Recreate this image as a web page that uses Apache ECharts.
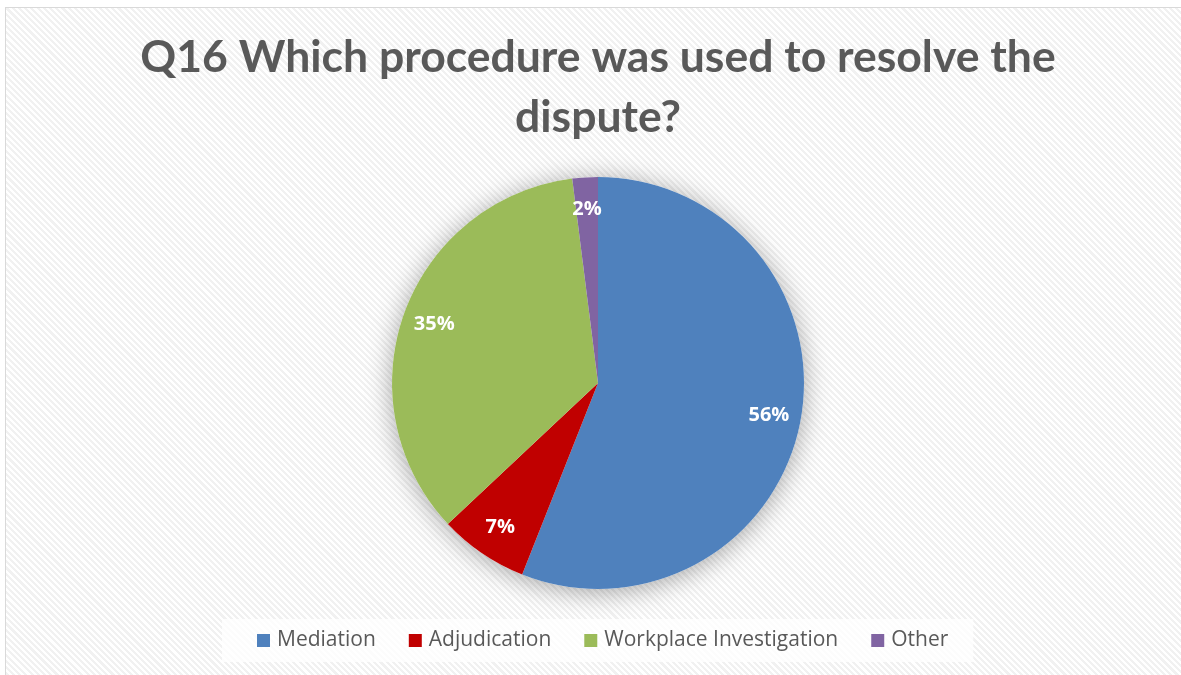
<!DOCTYPE html>
<html>
<head>
<meta charset="utf-8">
<script src="https://cdn.jsdelivr.net/npm/echarts@6/dist/echarts.min.js"></script>
<style>
  html, body { margin: 0; padding: 0; background: #ffffff; }
  #frame {
    position: absolute; left: 5px; top: 7px; width: 1180px; height: 672px;
    border: 1.5px solid #d9d9d9; box-sizing: border-box;
    background: repeating-linear-gradient(45deg, #ffffff 0px, #ffffff 2.2px, #f1f1f1 2.2px, #f1f1f1 4.4px);
  }
  #chart { position: absolute; left: 0; top: 0; width: 1181px; height: 675px; }
</style>
</head>
<body>
<div id="frame"></div>
<div id="chart"></div>
<script>
// Survey answers: procedure used to resolve the dispute (share of respondents, %)
const categories = ['Mediation', 'Adjudication', 'Workplace Investigation', 'Other'];
const shares = [56, 7, 35, 2];
const colors = ['#4F81BD', '#C00000', '#9BBB59', '#8064A2'];
const titleText = 'Q16 Which procedure was used to resolve the\ndispute?';

const pieData = categories.map((name, i) => ({ name, value: shares[i], itemStyle: { color: colors[i] } }));
const labelData = categories.map((name, i) => ({ name, value: shares[i] }));

const chart = echarts.init(document.getElementById('chart'), null, { renderer: 'canvas' });
const center = [598, 383];
const R = 206;

chart.setOption({
  backgroundColor: 'transparent',
  animation: false,
  title: {
    text: titleText,
    left: 593,
    top: 23,
    textAlign: 'center',
    textStyle: {
      fontFamily: 'Lato', fontWeight: 'bold', fontSize: 44.5, lineHeight: 60, color: '#595959'
    }
  },
  legend: {
    data: categories,
    left: 222,
    top: 619,
    icon: 'rect',
    itemWidth: 13,
    itemHeight: 13,
    itemGap: 33,
    padding: [11, 25, 11, 35],
    backgroundColor: 'rgba(255,255,255,0.75)',
    textStyle: { fontFamily: 'Open Sans', fontSize: 21, color: '#595959', padding: [0, 0, 0, 2] }
  },
  series: [
    {
      // soft drop shadow behind the pie
      type: 'pie', silent: true, center, radius: [0, R], z: 1,
      label: { show: false }, labelLine: { show: false },
      itemStyle: { color: '#ffffff', shadowBlur: 26, shadowColor: 'rgba(0,0,0,0.35)', shadowOffsetY: 3 },
      data: [{ name: '', value: 1 }]
    },
    {
      type: 'pie', center, radius: [0, R], startAngle: 90, clockwise: true, z: 2,
      label: { show: false }, labelLine: { show: false },
      itemStyle: { borderWidth: 0 },
      data: pieData
    },
    {
      // value labels placed toward the rim of each slice
      type: 'pie', silent: true, center, radius: [R * 0.66, R], startAngle: 90, clockwise: true, z: 3,
      itemStyle: { color: 'rgba(0,0,0,0)' },
      labelLine: { show: false },
      label: {
        show: true, position: 'inside',
        formatter: p => Math.round(p.percent) + '%',
        fontFamily: 'Open Sans', fontWeight: 'bold', fontSize: 20, color: '#ffffff'
      },
      data: labelData
    }
  ]
});
</script>
</body>
</html>
